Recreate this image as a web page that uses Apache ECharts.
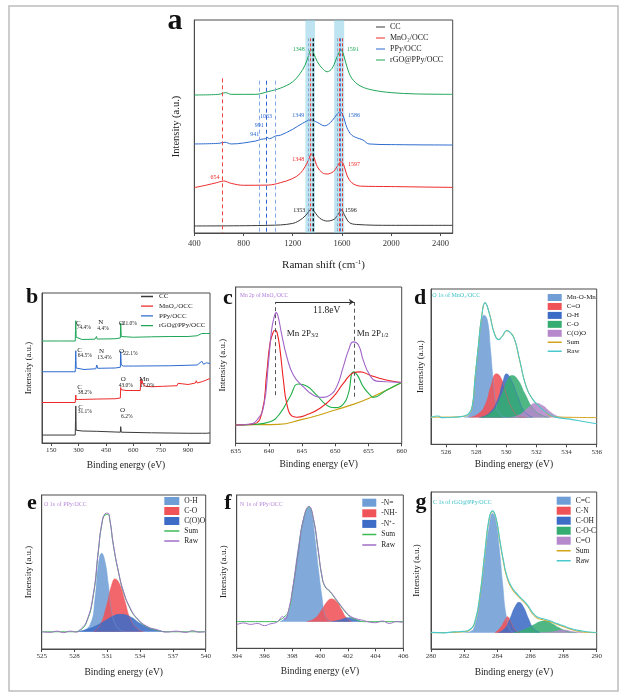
<!DOCTYPE html>
<html><head><meta charset="utf-8">
<script src="https://cdn.jsdelivr.net/npm/echarts@6/dist/echarts.min.js"></script>
<style>html,body{margin:0;padding:0;background:#fff}#c{width:633px;height:700px}</style>
</head><body><div id="c"></div>
<script>
// ---------- Panel a: Raman ----------
const ramanTicks = [400,800,1200,1600,2000,2400];
const ramanCC = [[400,3.3],[1000,3.6],[1200,4.5],[1280,6.9],[1320,9.3],[1353,11.4],[1385,9.3],[1420,6.9],[1480,5.6],[1540,6.6],[1575,9.3],[1596,10.8],[1620,8.5],[1660,4.9],[1720,4.0],[2000,3.6],[2500,3.6]];
const ramanMnO2 = [[400,21.3],[500,22.5],[580,23.6],[640,24.4],[700,23.3],[800,22.4],[1000,22.5],[1100,23.6],[1200,25.6],[1260,27.9],[1300,31.1],[1330,34.5],[1350,37.0],[1370,35.8],[1400,31.1],[1440,28.3],[1480,27.7],[1530,28.8],[1560,31.1],[1590,33.4],[1605,33.0],[1620,31.1],[1640,27.2],[1680,23.6],[1750,22.0],[2000,21.8],[2500,21.4]];
const ramanPPy = [[400,41.8],[600,42.1],[650,42.6],[700,41.8],[900,43.2],[941,44.0],[980,44.3],[991,44.9],[1010,44.3],[1063,45.6],[1100,45.9],[1200,48.7],[1280,51.5],[1349,53.1],[1400,51.9],[1460,50.3],[1520,52.7],[1560,55.8],[1586,56.9],[1610,55.0],[1640,49.5],[1680,45.9],[1740,44.3],[1770,43.7],[1820,41.8],[2000,41.5],[2500,41.3]];
const ramanRGO = [[400,64.8],[600,65.1],[654,65.9],[700,65.1],[900,65.1],[1000,66.4],[1100,68.0],[1200,71.0],[1260,74.9],[1300,78.8],[1330,83.5],[1348,86.2],[1370,84.3],[1400,80.4],[1440,77.3],[1480,75.7],[1520,77.3],[1550,81.2],[1575,84.6],[1591,86.2],[1610,84.3],[1640,78.1],[1680,72.6],[1750,69.0],[1850,67.1],[2000,65.9],[2200,65.3],[2500,65.1]];
const ramanBands = [[1303,1381],[1537,1618]];
const ramanPeakLines = [1330,1346,1357,1368,1565,1578,1589,1602];
const ramanMnLine = [630];
const ramanPPyLines = [926,982,1055];
const ramanNames = ['CC','MnO₂/OCC','PPy/OCC','rGO@PPy/OCC'];

// ---------- Panel b: XPS survey ----------
const surveyTicks = [150,300,450,600,750,900];
const surveyRGO = [[100,68],[200,68],[282,68],[283.5,75],[285,81.5],[287,70.5],[292,69.5],[320,69],[390,69.2],[398,71],[402,69.3],[500,69.5],[529,70],[531,80],[534,71],[540,70.5],[600,70.5],[700,70.8],[800,71],[900,71],[950,71.5],[975,73],[985,72],[1000,73],[1010,72.5],[1020,73]];
const surveyPPy = [[100,47.5],[282,47.5],[283.5,55],[285,61.5],[287,50],[295,49],[330,49],[395,49.5],[400,52],[405,49.8],[500,50],[529,50.5],[531,61],[534,52],[545,51.3],[600,51.3],[800,51.5],[950,52],[975,54.5],[985,52.5],[1000,53.5],[1020,53]];
const surveyMnO2 = [[100,27],[282,27],[283.5,30],[285,32],[287,29],[300,29],[400,29.3],[500,29.5],[529,30],[531,37],[534,35.5],[560,35],[620,35],[638,35],[640,39.5],[642,42.7],[644,39.6],[648,41.5],[652,39.5],[660,38],[700,37.5],[760,37.8],[800,38],[840,38.2],[845,39.8],[850,38.5],[900,39],[940,40],[945,41.5],[950,40],[980,41],[1000,42],[1020,43]];
const surveyCC = [[100,5.3],[282,5.3],[283.5,15],[285,24.7],[287,8.5],[295,7.5],[320,8],[400,7.8],[529,7.2],[531,10.9],[534,7.2],[700,6.8],[900,6.5],[980,6.5],[990,7.5],[1000,6.5],[1020,6.7]];

// ---------- Panel c: Mn 2p ----------
const mnTicks = [635,640,645,650,655,660];
const mnSum = [[635,11.7],[637.2,12.3],[638.2,14.9],[639.2,23.4],[639.9,50.0],[640.4,72.3],[640.8,80.9],[641.1,83.6],[641.4,80.9],[641.9,70.2],[642.7,55.3],[643.7,43.6],[645.2,36.1],[646.7,30.8],[648.2,29.4],[649.2,30.8],[650.2,36.1],[651.2,48.9],[652.0,59.6],[652.7,64.9],[653.5,62.8],[654.2,53.2],[655.2,43.6],[656.2,39.8],[657.7,39.4],[660,38.9]];
const mnFitRed = [[635,11.7],[637.66,12.3],[638.92,19.2],[639.67,44.7],[640.17,63.9],[640.67,71.3],[640.97,72.3],[641.27,70.2],[641.68,59.6],[642.18,40.5],[642.68,25.6],[643.43,17.5],[644.19,16.7],[645.69,18.2],[647.7,22.4],[649.71,29.8],[651.21,38.3],[652.72,45.1],[653.72,45.7],[655.23,43.6],[656.74,41.5],[658.24,40.0],[660,38.9]];
const mnFitGreen = [[635,11.7],[637.66,12.1],[640.17,13.8],[641.68,19.2],[643.18,29.8],[644.44,37.9],[645.69,36.6],[647.2,30.8],[648.7,24.4],[649.96,22.8],[651.21,25.1],[651.97,31.9],[652.72,45.7],[653.32,43.6],[654.23,36.1],[655.48,29.8],[655.7,29.4],[657.7,34.0],[660,38.9]];
const mnBase = [[635,11.7],[637.66,11.9],[641.4,12.1],[645.0,15.3],[647.7,18.3],[650.0,21.3],[652.7,24.9],[655.0,28.7],[657.7,34.0],[660,38.9]];
const mnPeaks = [641, 652.8];

// ---------- Panel d: O 1s of MnO2/OCC ----------
const o1Ticks = [526,528,530,532,534,536];
const o1Names = ['Mn-O-Mn','C=O','O-H','C-O','C(O)O','Sum','Raw'];
const o1MnOMn = [[527.2,17.2],[527.52,18.9],[527.75,24.4],[527.92,41.6],[528.15,63.2],[528.33,78.4],[528.53,83.1],[528.75,79.5],[528.93,63.2],[529.13,41.6],[529.35,24.4],[529.64,18.9],[530.09,17.2]];
const o1CdO = [[527.52,17.2],[528.19,20.0],[528.64,26.5],[528.97,37.3],[529.35,45.4],[529.64,42.8],[529.98,33.0],[530.42,22.2],[530.87,17.9],[531.32,17.2]];
const o1OH = [[528.19,17.2],[528.86,20.0],[529.42,28.6],[529.75,39.4],[530.02,45.4],[530.31,41.6],[530.76,30.8],[531.21,21.1],[531.76,17.2]];
const o1CO = [[528.3,17.2],[529.08,21.1],[529.64,30.8],[530.09,41.6],[530.38,44.3],[530.76,41.6],[531.21,33.0],[531.76,23.3],[532.32,18.9],[532.88,17.2]];
const o1COO = [[530.2,17.2],[530.87,18.9],[531.43,23.3],[531.94,26.5],[532.43,24.8],[532.88,21.1],[533.33,18.3],[533.77,17.2]];
const o1Sum = [[525,17.5],[525.96,17.5],[527.08,17.9],[527.52,19.7],[527.75,25.0],[527.92,42.0],[528.15,63.5],[528.37,82.5],[528.59,90.9],[528.86,84.9],[529.2,71.9],[529.49,67.6],[529.75,69.7],[530.02,73.0],[530.25,72.3],[530.54,67.6],[530.87,54.6],[531.32,37.4],[531.76,28.7],[532.21,24.4],[532.66,20.1],[533.1,17.9],[533.55,17.5],[536,17.2]];
const o1Raw = [[525,17.3],[525.5,18.2],[525.7,17.2],[526.5,17.4],[527.08,18.0],[527.52,19.9],[527.75,25.3],[527.92,42.4],[528.15,63.9],[528.37,82.8],[528.59,91.2],[528.86,84.6],[529.2,71.5],[529.49,67.3],[529.75,69.9],[530.02,73.3],[530.25,72.0],[530.54,67.9],[530.87,55.0],[531.32,37.0],[531.76,28.9],[532.21,24.2],[532.66,20.4],[533.1,18.1],[533.55,17.0],[534.22,16.2],[535.11,14.7],[536,13.2]];

// ---------- Panel e: O 1s of PPy/OCC ----------
const o2Ticks = [525,528,531,534,537,540];
const o2Names = ['O-H','C-O','C(O)O','Sum','Raw'];
const o2OH = [[528.51,11.2],[529.42,15.6],[529.88,32.9],[530.18,54.6],[530.49,62.1],[530.79,56.7],[531.1,41.6],[531.4,24.3],[531.86,14.5],[532.47,11.2]];
const o2CO = [[529.73,11.2],[530.34,15.6],[530.95,28.6],[531.4,41.6],[531.71,45.5],[532.16,41.6],[532.62,30.8],[533.08,20.0],[533.69,13.5],[534.3,11.2]];
const o2COO = [[528.2,11.2],[529.42,13.4],[530.64,17.7],[531.55,21.4],[532.16,22.5],[533.08,21.0],[533.99,16.7],[534.91,13.4],[535.82,11.7],[536.43,11.2]];
const o2Sum = [[525,11.2],[527.9,11.2],[528.51,12.3],[529.12,17.7],[529.73,35.1],[530.18,63.2],[530.49,80.5],[530.79,87.0],[531.04,87.4],[531.25,82.7],[531.55,67.5],[532.01,50.2],[532.47,37.2],[533.08,26.4],[533.69,19.9],[534.6,14.5],[535.52,12.3],[536.43,11.2],[540,11.2]];
const o2Raw = [[525,11.2],[525.8,10.8],[526.4,11.6],[527.0,10.6],[527.6,11.6],[528.2,11.0],[528.51,12.5],[529.12,18.2],[529.73,36.0],[530.18,64.0],[530.49,81.2],[530.79,87.8],[531.04,88.2],[531.25,83.2],[531.55,68.0],[532.01,50.6],[532.47,37.6],[533.08,26.8],[533.69,20.2],[534.6,14.8],[535.52,12.6],[536.43,11.0],[537.3,11.6],[538.2,10.8],[538.8,11.9],[539.4,10.9],[540,11.3]];

// ---------- Panel f: N 1s of PPy/OCC ----------
const nTicks = [394,396,398,400,402,404,406];
const nNames = ['-N=','-NH-','-N⁺-','Sum','Raw'];
const nPyr = [[397.12,17.4],[397.48,19.6],[397.84,26.1],[398.08,41.3],[398.32,58.7],[398.68,78.3],[398.99,89.1],[399.21,91.7],[399.4,88.0],[399.64,71.7],[399.88,52.2],[400.12,34.8],[400.36,21.7],[400.6,18.5],[400.96,17.4]];
const nNH = [[399.04,17.4],[399.64,19.6],[400.12,25.0],[400.48,30.0],[400.79,32.2],[401.2,30.4],[401.56,25.0],[401.92,19.6],[402.28,17.4]];
const nPlus = [[400.84,17.4],[401.44,18.5],[402.04,20.0],[402.52,19.0],[403.0,17.4]];
const nSum = [[394,17.4],[396.88,17.4],[397.12,18.5],[397.36,20.0],[397.72,23.9],[398.08,41.3],[398.44,63.0],[398.8,83.6],[399.21,92.1],[399.52,84.5],[399.88,63.0],[400.12,47.8],[400.36,40.2],[400.72,36.9],[401.08,32.6],[401.44,28.3],[401.8,23.9],[402.16,20.7],[402.64,18.5],[403.12,17.4],[406,17.4]];
const nRaw = [[394,15.4],[394.5,16.5],[395,15.6],[395.5,16.2],[396,14.8],[396.4,15.9],[396.88,17.0],[397.12,19.2],[397.3,20.8],[397.48,18.8],[397.72,24.2],[398.08,41.8],[398.44,63.4],[398.8,84.0],[399.21,92.6],[399.52,84.9],[399.88,63.5],[400.12,48.3],[400.36,40.6],[400.72,37.2],[401.08,33.0],[401.44,28.6],[401.8,24.4],[402.16,21.1],[402.64,19.2],[403.12,18.2],[403.5,17.2],[404,16.7],[404.5,17.8],[405,16.2],[405.5,17.4],[406,16.8]];

// ---------- Panel g: C 1s of rGO@PPy/OCC ----------
const cTicks = [280,282,284,286,288,290];
const cNames = ['C=C','C-N','C-OH','C-O-C','C=O','Sum','Raw'];
const cCC = [[281.95,10.4],[282.35,11.0],[282.66,15.3],[282.96,32.3],[283.26,57.7],[283.52,78.9],[283.72,86.4],[283.92,81.1],[284.12,64.1],[284.33,40.8],[284.53,21.7],[284.77,12.1],[285.07,10.4]];
const cCN = [[283.86,10.4],[284.16,13.2],[284.47,18.5],[284.61,20.6],[284.81,17.4],[285.07,12.1],[285.37,10.4]];
const cCOH = [[284.06,10.4],[284.47,13.2],[284.77,19.5],[285.07,26.9],[285.31,29.7],[285.57,26.9],[285.88,19.5],[286.18,13.2],[286.58,10.4]];
const cCOC = [[284.97,10.4],[285.57,12.1],[286.18,15.3],[286.58,17.4],[286.88,17.8],[287.28,16.3],[287.79,13.2],[288.29,11.0],[288.79,10.4]];
const cCdO = [[286.58,10.4],[287.38,11.0],[287.99,12.1],[288.59,11.0],[289.2,10.4]];
const cSum = [[280,10.4],[281.35,10.6],[281.95,11.0],[282.35,12.1],[282.66,17.4],[282.96,34.4],[283.26,62.0],[283.52,83.2],[283.72,87.5],[283.92,83.2],[284.16,68.3],[284.37,55.6],[284.57,46.1],[284.87,38.6],[285.27,33.3],[285.77,28.0],[286.28,20.6],[286.78,18.5],[287.18,17.4],[287.59,15.7],[287.99,14.2],[288.39,12.7],[288.79,11.5],[289.4,10.6],[290,10.4]];
const cRaw = [[280,10.6],[280.8,10.3],[281.35,10.9],[281.95,11.2],[282.35,12.4],[282.66,17.9],[282.96,35.0],[283.26,62.6],[283.52,83.8],[283.72,88.0],[283.92,83.6],[284.16,69.0],[284.37,56.4],[284.57,47.0],[284.87,39.5],[285.27,34.2],[285.77,28.8],[286.28,21.4],[286.78,19.2],[287.18,18.0],[287.59,16.2],[287.99,14.8],[288.39,13.2],[288.79,12.0],[289.4,11.0],[290,10.5]];

// ================= build =================
const SERIF = 'Liberation Serif';
const AX = '#4a4a4a';
const grids = [
  {left:194.3, top:20, width:258.4, height:213},
  {left:42, top:293, width:168, height:150},
  {left:235.7, top:287, width:166, height:156.3},
  {left:431, top:289, width:165.7, height:155.3},
  {left:41.7, top:495, width:164, height:154},
  {left:236.7, top:495, width:166.6, height:153.3},
  {left:431, top:492, width:165.7, height:157}
].map(g => Object.assign({show:true, borderColor:AX, borderWidth:1, containLabel:false}, g));

function xAx(i, min, max, ticks, name, gap) {
  return {type:'value', gridIndex:i, min, max, name, nameLocation:'middle', nameGap:gap,
    nameTextStyle:{fontFamily:SERIF, fontSize:9.5, color:'#222', rich:{n:{fontFamily:SERIF,fontSize:11,color:'#222'}, s:{fontFamily:SERIF,fontSize:7,color:'#222',verticalAlign:'top',padding:[0,0,6,0]}}},
    axisLine:{show:true, onZero:false, lineStyle:{color:AX, width:1}},
    axisTick:{show:true, inside:false, length:3, customValues:ticks, lineStyle:{color:AX}},
    axisLabel:{customValues:ticks, formatter: v => String(v), fontFamily:SERIF, fontSize:i===0?8.5:7, color:'#333', margin:i===0?6:4},
    splitLine:{show:false}};
}
function yAx(i, gap) {
  return {type:'value', gridIndex:i, min:0, max:100, name:'Intensity (a.u.)', nameLocation:'middle', nameGap:gap,
    nameTextStyle:{fontFamily:SERIF, fontSize:i===0?10.5:9, color:'#222'},
    axisLine:{show:true, onZero:false, lineStyle:{color:AX, width:1}},
    axisTick:{show:false}, axisLabel:{show:false}, splitLine:{show:false}};
}
const xAxis = [
  xAx(0, 400, 2500, ramanTicks, '{n|Raman shift (cm}{s|-1}{n|)}', 26),
  xAx(1, 100, 1020, surveyTicks, 'Binding energy (eV)', 17),
  xAx(2, 635, 660, mnTicks, 'Binding energy (eV)', 16),
  xAx(3, 525, 536, o1Ticks, 'Binding energy (eV)', 15),
  xAx(4, 525, 540, o2Ticks, 'Binding energy (eV)', 18),
  xAx(5, 394, 406, nTicks, 'Binding energy (eV)', 18),
  xAx(6, 280, 290, cTicks, 'Binding energy (eV)', 18)
];
const yAxis = [yAx(0,13), yAx(1,9), yAx(2,9), yAx(3,6), yAx(4,9), yAx(5,9), yAx(6,10)];

const series = [];
function ln(name, gi, data, color, w, smooth, z) {
  const s = {type:'line', name, xAxisIndex:gi, yAxisIndex:gi, data, symbol:'none', showSymbol:false,
    smooth: smooth, lineStyle:{color, width:w}, itemStyle:{color}, z: z||3, silent:true, animation:false};
  series.push(s); return s;
}
function fl(name, gi, data, color, base) {
  const s = ln(name, gi, data, color, 0.5, 0.5, 2);
  s.areaStyle = {color, opacity:0.88, origin: base};
  return s;
}

// panel a
const aCol = ['#3a3a3a','#ee2b2b','#2f6ccf','#1fa658'];
const bandHelper = {type:'line', xAxisIndex:0, yAxisIndex:0, data:[], z:1, silent:true, animation:false,
  markArea:{silent:true, itemStyle:{color:'rgba(135,205,228,0.55)'}, data: ramanBands.map(b => [{xAxis:b[0]},{xAxis:b[1]}])},
  markLine:{silent:true, symbol:'none', label:{show:false}, animation:false, data: []}};
const peakCols = ['#8aa5c8','#e44','#5a8f9a','#111','#8aa5c8','#e44','#4a6fd0','#d33'];
ramanPeakLines.forEach((x,k) => bandHelper.markLine.data.push([{coord:[x,91.4], lineStyle:{color:peakCols[k], type:[3,2], width:1}},{coord:[x,0]}]));
ramanMnLine.forEach(x => bandHelper.markLine.data.push([{coord:[x,72.6], lineStyle:{color:'#ee4444', type:[4,3], width:1}},{coord:[x,0]}]));
ramanPPyLines.forEach((x,k) => bandHelper.markLine.data.push([{coord:[x,71.5], lineStyle:{color:k===1?'#2f62d0':'#86a8e8', type:[4,3], width:1}},{coord:[x,0]}]));
series.push(bandHelper);
[ramanCC, ramanMnO2, ramanPPy, ramanRGO].forEach((d,k) => ln('a|'+ramanNames[k], 0, d, aCol[k], 1, 0.35, 4));

// panel b
[surveyCC, surveyMnO2, surveyPPy, surveyRGO].forEach((d,k) => ln('b|'+ramanNames[k], 1, d, aCol[k], 1, false, 3));

// panel c
ln('c|base', 2, mnBase, '#c9a010', 1.1, 0.5, 3);
ln('c|green', 2, mnFitGreen, '#22b04a', 1.1, 0.5, 3);
ln('c|red', 2, mnFitRed, '#ee2020', 1.1, 0.5, 4);
const cs = ln('c|sum', 2, mnSum, '#a064c8', 1.1, 0.5, 5);
cs.markLine = {silent:true, symbol:'none', label:{show:false}, animation:false, data:[
  [{coord:[mnPeaks[0],30.8], lineStyle:{color:'#555',type:[4,3],width:1}},{coord:[mnPeaks[0],90.4]}],
  [{coord:[mnPeaks[1],29.8], lineStyle:{color:'#555',type:[4,3],width:1}},{coord:[mnPeaks[1],90.4]}],
  [{coord:[mnPeaks[0],90.4], symbol:'none', lineStyle:{color:'#333',type:'solid',width:1}},{coord:[mnPeaks[1],90.4], symbol:'arrow', symbolSize:5}]
]};

// fill colours
const FB = '#6f9ed6', FR = '#ef5257', FD = '#3c6cc5', FG = '#35ad72', FV = '#b589cc';
const GOLD = '#d4a31a', CYAN = '#4ac9cc', LGREEN = '#3cbb54', VIOL = '#a070c8';

// panel d
[o1MnOMn,o1CdO,o1OH,o1CO,o1COO].forEach((d,k) => fl('d|'+o1Names[k], 3, d, [FB,FR,FD,FG,FV][k], 17.2));
ln('d|Sum', 3, o1Sum, GOLD, 1, 0.5, 5);
ln('d|Raw', 3, o1Raw, CYAN, 1.1, 0.5, 6);

// panel e
[o2OH,o2CO,o2COO].forEach((d,k) => fl('e|'+o2Names[k], 4, d, [FB,FR,FD][k], 11.2));
ln('e|Sum', 4, o2Sum, LGREEN, 1, 0.5, 5);
ln('e|Raw', 4, o2Raw, VIOL, 1, 0.5, 6);

// panel f
[nPyr,nNH,nPlus].forEach((d,k) => fl('f|'+nNames[k], 5, d, [FB,FR,FD][k], 17.4));
ln('f|Sum', 5, nSum, LGREEN, 1, 0.5, 5);
ln('f|Raw', 5, nRaw, VIOL, 1, 0.5, 6);

// panel g
[cCC,cCN,cCOH,cCOC,cCdO].forEach((d,k) => fl('g|'+cNames[k], 6, d, [FB,FR,FD,FG,FV][k], 10.4));
ln('g|Sum', 6, cSum, GOLD, 1, 0.5, 5);
ln('g|Raw', 6, cRaw, CYAN, 1.1, 0.5, 6);

// legends (line icons drawn as a bar, rect icons as filled boxes)
const LINE_ICON = 'path://M0,0L0.01,0L0.01,0.01L0,0.01ZM0,3.9L20,3.9L20,6.1L0,6.1ZM19.99,9.99L20,9.99L20,10L19.99,10Z';
function lg(prefix, names, left, top, iw, ih, gap, fs, rectCount) {
  return {show:true, orient:'vertical', left, top, padding:0, itemWidth:iw, itemHeight:ih, itemGap:gap,
    selectedMode:false, formatter: n => n.split('|')[1],
    textStyle:{fontFamily:SERIF, fontSize:fs, color:'#222', lineHeight:ih},
    data: names.map((n,k) => ({name:prefix+'|'+n, icon: k < rectCount ? 'rect' : LINE_ICON}))};
}
const legend = [
  lg('a', ramanNames, 376, 23, 9, 8, 3, 8, 0),
  lg('b', ramanNames, 141, 293, 14, 6, 2.7, 7, 0),
  lg('d', o1Names, 547.7, 294, 14, 7, 1.95, 7, 5),
  lg('e', o2Names, 164.3, 497, 15, 8, 2, 7.5, 3),
  lg('f', nNames, 362.3, 498.7, 14, 8, 2.6, 7.5, 3),
  lg('g', cNames, 556.7, 496.7, 14, 8, 2, 7.5, 5)
];

// graphics
const G = [];
G.push({type:'rect', shape:{x:9, y:6, width:609, height:685}, style:{fill:'none', stroke:'#bdbdbd', lineWidth:1.5}, silent:true, z:0});
function tx(t, x, y, o) {
  G.push({type:'text', x, y, silent:true, z:50, style:Object.assign({text:t, fontFamily:SERIF, fontSize:6, fill:'#222', align:'center', verticalAlign:'middle'}, o||{})});
}
// panel letters
tx('a', 175, 21, {fontSize:30, fontWeight:'bold', fill:'#111'});
tx('b', 32, 297, {fontSize:22, fontWeight:'bold', fill:'#111'});
tx('c', 228, 298, {fontSize:22, fontWeight:'bold', fill:'#111'});
tx('d', 420, 298, {fontSize:22, fontWeight:'bold', fill:'#111'});
tx('e', 32, 503, {fontSize:22, fontWeight:'bold', fill:'#111'});
tx('f', 228, 503, {fontSize:22, fontWeight:'bold', fill:'#111'});
tx('g', 421, 502, {fontSize:22, fontWeight:'bold', fill:'#111'});
// panel a peak labels
const cg = aCol[3], cb = aCol[2], cr = aCol[1], ck = '#222';
tx('1348', 298.7, 49, {fill:cg}); tx('1591', 352.7, 49, {fill:cg});
tx('1349', 298.3, 115.7, {fill:cb}); tx('1586', 354, 115.7, {fill:cb});
tx('1063', 266, 116.7, {fill:cb}); tx('991', 259.3, 125, {fill:cb}); tx('941', 254.7, 134, {fill:cb});
tx('1348', 298.3, 159.3, {fill:cr}); tx('1597', 354, 164, {fill:cr}); tx('654', 215, 177.3, {fill:cr});
tx('1353', 299.3, 210.7, {fill:ck}); tx('1596', 350.7, 210.7, {fill:ck});
// panel b element labels
const bl = (t,x,y) => tx(t, x, y, {fill:'#222', align:'left', fontSize:t.length>2?5.5:7});
bl('C',76,322.7); bl('74.4%',76.7,327.5); bl('N',98.3,322); bl('4.4%',97.3,328.3); bl('O',118.7,322.7); bl('21.0%',122.7,323.5);
bl('C',77.3,350); bl('64.5%',77.7,356); bl('N',99,351.3); bl('13.4%',97.3,357.3); bl('O',119,351.3); bl('22.1%',123.3,354);
bl('C',77.3,387.3); bl('38.2%',77.7,392.7); bl('O',120.7,379); bl('43.0%',118.7,385.3); bl('Mn',139.3,379); bl('17.0%',140,386);
bl('C',78.3,406.7); bl('31.1%',77.7,412); bl('O',120,410.5); bl('6.2%',121,416.5);
// panel c annotations
tx('Mn 2p of MnO₂/OCC', 240, 295.7, {align:'left', fontSize:5.5, fill:'#b07cd8'});
tx('11.8eV', 326.7, 310, {fontSize:9.5});
G.push({type:'text', x:286.7, y:333.3, silent:true, z:50, style:{text:'{m|Mn 2P}{s|3/2}', align:'left', verticalAlign:'middle', rich:{m:{fontFamily:SERIF,fontSize:9,fill:'#222'}, s:{fontFamily:SERIF,fontSize:6,fill:'#222',verticalAlign:'bottom',padding:[5,0,0,0]}}}});
G.push({type:'text', x:356.7, y:333.3, silent:true, z:50, style:{text:'{m|Mn 2P}{s|1/2}', align:'left', verticalAlign:'middle', rich:{m:{fontFamily:SERIF,fontSize:9,fill:'#222'}, s:{fontFamily:SERIF,fontSize:6,fill:'#222',verticalAlign:'bottom',padding:[5,0,0,0]}}}});
// panel subtitles
tx('O 1s of MnO₂/OCC', 432.3, 295, {align:'left', fontSize:6, fill:'#3cbfc6'});
tx('O 1s of PPy/OCC', 44, 504, {align:'left', fontSize:6, fill:'#b88ad8'});
tx('N 1s of PPy/OCC', 240, 504, {align:'left', fontSize:6, fill:'#b88ad8'});
tx('C 1s of rGO@PPy/OCC', 433, 502, {align:'left', fontSize:6, fill:'#3cbfc6'});

const chart = echarts.init(document.getElementById('c'), null, {renderer:'canvas', width:633, height:700});
chart.setOption({backgroundColor:'#fff', animation:false, grid:grids, xAxis, yAxis, legend, series, graphic:G});
</script></body></html>
